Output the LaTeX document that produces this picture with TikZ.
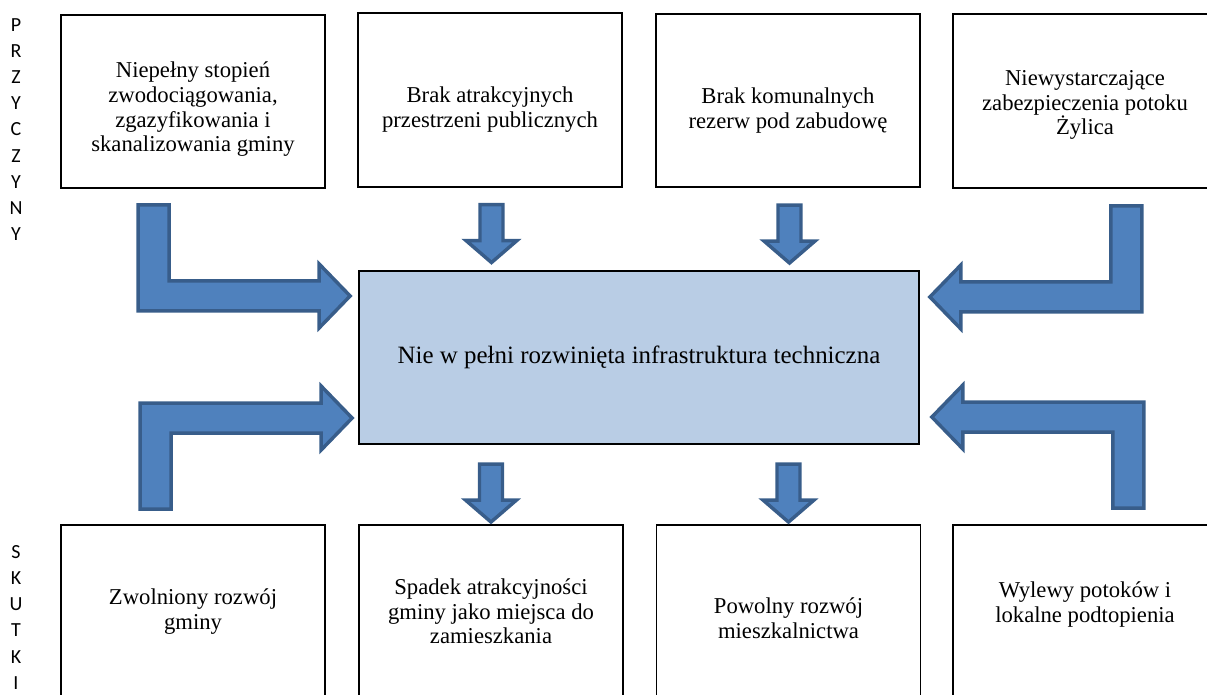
\documentclass[tikz,border=0pt]{standalone}
\usepackage{fontspec}
\setmainfont{Liberation Serif}
\newfontfamily\sidefont{Carlito}
\usetikzlibrary{calc}
\definecolor{arrowblue}{HTML}{4F81BD}
\definecolor{arrowedge}{HTML}{385D8A}
\definecolor{corefill}{HTML}{B9CDE5}
% pionowe przesuniecie tekstu w ramce
\newcommand\toppad[1]{\rule{0pt}{#1}}
\newcommand\botpad[1]{\rule[-#1]{0pt}{0pt}}
\tikzset{
  blockarrow/.style={fill=arrowblue,draw=arrowedge,line width=2.6pt},
  elbow/.pic={\draw[blockarrow] (-215,-91) -- (-184,-91) -- (-184,-15) -- (-34,-15) -- (-34,-32) -- (-3,0) -- (-34,32) -- (-34,15) -- (-215,15) -- cycle;},
  downarr/.pic={\draw[blockarrow] (-11.5,2) -- (11.5,2) -- (11.5,38) -- (25.5,38) -- (0,60) -- (-25.5,38) -- (-11.5,38) -- cycle;}
}
\begin{document}
\begin{tikzpicture}[x=0.75pt,y=-0.75pt,
  cause/.style={draw,line width=1.3pt,minimum width=198pt,minimum height=130pt,align=center,inner sep=0pt,font=\fontsize{17}{18.5}\selectfont},
  core/.style={cause,fill=corefill,minimum width=420pt,font=\fontsize{18.7}{20}\selectfont},
  side/.style={anchor=north,align=center,inner sep=0pt,font=\sidefont\fontsize{15}{19.65}\selectfont}
]
\useasboundingbox (0,0) rectangle (1207,695);
% przyczyny
\node[side] (przyczyny) at (16,18) {P\\R\\Z\\Y\\C\\Z\\Y\\N\\Y};
\node[cause] (t1) at (193,101.5) {\toppad{23.5pt}Niepełny stopień\\zwodociągowania,\\zgazyfikowania i\\skanalizowania gminy};
\node[cause] (t2) at (490,100) {\toppad{26.5pt}Brak atrakcyjnych\\przestrzeni publicznych};
\node[cause] (t3) at (788,100.5) {\toppad{26.5pt}Brak komunalnych\\rezerw pod zabudowę};
\node[cause] (t4) at (1085,101) {\toppad{17.5pt}Niewystarczające\\zabezpieczenia potoku\\Żylica};
% problem
\node[core] (c) at (639,357.5) {Nie w pełni rozwinięta infrastruktura techniczna};
% skutki
\node[side] (skutki) at (16,545) {S\\K\\U\\T\\K\\I};
\node[cause] (b1) at (193,611.5) {Zwolniony rozwój\\gminy};
\node[cause] (b2) at (491,611.5) {Spadek atrakcyjności\\gminy jako miejsca do\\zamieszkania};
\node[cause] (b3) at (788.5,611.5) {\toppad{21.5pt}Powolny rozwój\\mieszkalnictwa};
\node[cause] (b4) at (1085,611.5) {Wylewy potoków i\\lokalne podtopienia\botpad{14pt}};
% strzalki
\pic at ($(c.north west)+(-5,26)$) {elbow};
\pic[xscale=-1] at ($(c.north east)+(7,27)$) {elbow};
\pic[yscale=-1] at ($(c.south west)+(-3,-27)$) {elbow};
\pic[xscale=-1,yscale=-1] at ($(c.south east)+(9,-28)$) {elbow};
\pic at ($(t2.south)+(1.5,15)$) {downarr};
\pic at ($(t3.south)+(1.5,15)$) {downarr};
\pic at ($(b2.north |- c.south)+(0,17)$) {downarr};
\pic at ($(b3.north |- c.south)+(0,17)$) {downarr};
\end{tikzpicture}
\end{document}
